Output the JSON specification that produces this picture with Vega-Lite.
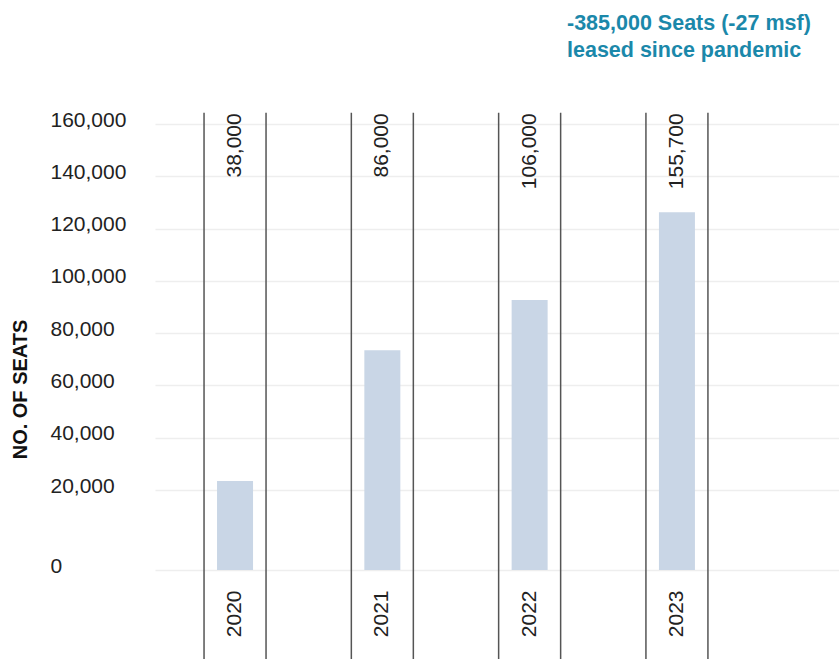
{
  "$schema": "https://vega.github.io/schema/vega-lite/v6.json",
  "width": 684,
  "height": 446,
  "autosize": {"type": "none"},
  "padding": {"left": 155, "top": 124, "right": 0, "bottom": 89},
  "background": "white",
  "config": {"view": {"stroke": null}},
  "title": {
    "text": ["-385,000 Seats (-27 msf)", "leased since pandemic"],
    "anchor": "start",
    "frame": "group",
    "dx": 412,
    "color": "#1b88aa",
    "font": "Liberation Sans",
    "fontSize": 21.5,
    "fontWeight": "bold",
    "lineHeight": 27,
    "offset": 48
  },
  "data": {
    "values": [
      {"year": "2020", "seats": 23400, "label": "38,000"},
      {"year": "2021", "seats": 73500, "label": "86,000"},
      {"year": "2022", "seats": 92700, "label": "106,000"},
      {"year": "2023", "seats": 126200, "label": "155,700"}
    ]
  },
  "encoding": {
    "x": {
      "field": "year",
      "type": "ordinal",
      "scale": {"paddingInner": 0.7556, "paddingOuter": 0.6996, "align": 0.301},
      "axis": {
        "orient": "bottom",
        "title": null,
        "domain": false,
        "ticks": false,
        "tickSize": 0,
        "grid": false,
        "labelAngle": -90,
        "labelAlign": "right",
        "labelBaseline": "middle",
        "labelPadding": 20,
        "labelFont": "Liberation Sans",
        "labelFontSize": 21,
        "labelColor": "#222222"
      }
    }
  },
  "layer": [
    {
      "mark": {"type": "bar", "color": "#c9d6e6"},
      "encoding": {
        "y": {
          "field": "seats",
          "type": "quantitative",
          "scale": {"domain": [0, 20000, 160000], "range": [446, 366, 0], "nice": false, "zero": false},
          "axis": {
            "values": [0, 20000, 40000, 60000, 80000, 100000, 120000, 140000, 160000],
            "labelExpr": "format(datum.value, ',.0f')",
            "domain": false,
            "ticks": false,
            "tickSize": 0,
            "grid": true,
            "gridColor": "#eeeeee",
            "gridWidth": 1.5,
            "labelAlign": "left",
            "labelBaseline": "middle",
            "labelPadding": 105,
            "labelOffset": -4,
            "labelFont": "Liberation Sans",
            "labelFontSize": 21,
            "labelColor": "#222222",
            "title": "NO. OF SEATS",
            "titleFont": "Liberation Sans",
            "titleFontSize": 20,
            "titleFontWeight": "bold",
            "titleColor": "#111111",
            "titleAngle": 270,
            "titleAlign": "center",
            "titleBaseline": "middle",
            "titleX": -135,
            "titleY": 265
          }
        }
      }
    },
    {
      "mark": {"type": "rule", "color": "#555555", "strokeWidth": 1.5, "xOffset": -31},
      "encoding": {"y": {"datum": 164300, "type": "quantitative"}, "y2": {"datum": -22250}}
    },
    {
      "mark": {"type": "rule", "color": "#555555", "strokeWidth": 1.5, "xOffset": 31},
      "encoding": {"y": {"datum": 164300, "type": "quantitative"}, "y2": {"datum": -22250}}
    },
    {
      "mark": {"type": "text", "angle": 270, "align": "right", "baseline": "middle", "font": "Liberation Sans", "fontSize": 21, "color": "#222222"},
      "encoding": {
        "y": {"datum": 164100, "type": "quantitative"},
        "text": {"field": "label"}
      }
    }
  ]
}
